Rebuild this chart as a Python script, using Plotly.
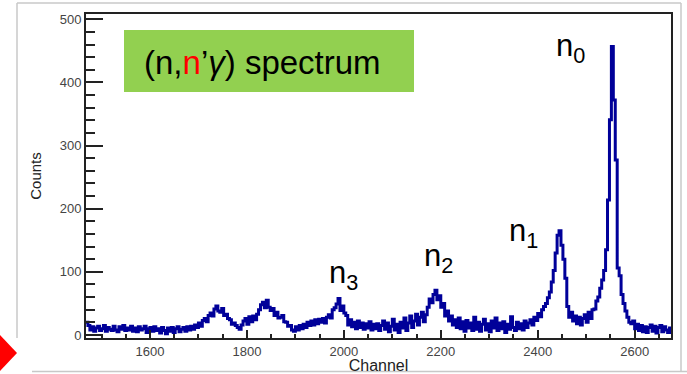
import plotly.graph_objects as go

# ---- data: histogram of counts per channel bin ----
bin_start = 1468
bin_width = 4
counts = [
    # 1468-1568
    20, 15, 8, 13, 6, 11, 14, 7, 10, 15, 6, 12, 9, 7, 14, 8, 5, 13, 9, 15, 7, 11, 8, 14, 6,
    # 1568-1668
    11, 5, 13, 8, 10, 14, 4, 10, 12, 6, 13, 7, 10, 3, 12, 7, 2, 11, 6, 12, 4, 10, 13, 5, 9,
    # 1668-1768
    12, 6, 13, 8, 14, 9, 16, 12, 19, 14, 23, 26, 21, 31, 35, 30, 41, 46, 38, 36, 42, 31, 33, 26, 24,
    # 1768-1868
    17, 19, 15, 12, 9, 16, 22, 26, 17, 29, 21, 30, 24, 33, 40, 48, 52, 43, 55, 44, 39, 42, 31, 36, 27,
    # 1868-1968
    28, 31, 21, 20, 14, 15, 8, 6, 13, 8, 15, 10, 17, 12, 20, 15, 22, 16, 24, 18, 25, 20, 26, 19, 28,
    # 1968-2068
    32, 27, 40, 43, 49, 58, 39, 46, 35, 31, 16, 24, 13, 20, 10, 22, 12, 19, 9, 18, 11, 21, 8, 17, 10,
    # 2068-2168
    18, 7, 15, 22, 9, 19, 5, 14, 25, 8, 17, 4, 20, 11, 27, 7, 19, 30, 12, 22, 33, 16, 28, 36, 21,
    # 2168-2268
    32, 44, 57, 51, 64, 71, 56, 62, 44, 50, 30, 38, 22, 30, 16, 24, 12, 27, 10, 21, 6, 23, 11, 19, 7,
    # 2268-2368
    28, 9, 20, 6, 17, 25, 8, 18, 5, 22, 11, 27, 7, 19, 10, 21, 4, 17, 9, 29, 12, 7, 20, 10, 18,
    # 2368-2468
    8, 22, 12, 19, 24, 16, 28, 23, 34, 29, 40, 45, 50, 59, 68, 84, 102, 130, 158, 165, 142, 120, 90, 45, 28,
    # 2468-2568
    36, 22, 30, 18, 28, 16, 26, 32, 20, 36, 26, 40, 41, 54, 60, 74, 87, 102, 135, 214, 341, 457, 372, 277, 106,
    # 2568-2676
    94, 64, 50, 38, 28, 20, 18, 22, 10, 17, 7, 15, 5, 13, 4, 12, 16, 6, 14, 3, 12, 15, 5, 13, 8, 4, 11,
]
x_ticks = [1600, 1800, 2000, 2200, 2400, 2600]
y_ticks = [0, 100, 200, 300, 400, 500]
peak_labels = ["n<sub>0</sub>", "n<sub>1</sub>", "n<sub>2</sub>", "n<sub>3</sub>"]

edges = [bin_start + i * bin_width for i in range(len(counts) + 1)]
ys = counts + [counts[-1]]

# ---- geometry (pixels) ----
W, H = 687, 374
L, R, T, B = 86, 671, 14, 338
def px(x):
    return (x - L) / (R - L)
def py(y):
    return (B - y) / (B - T)

fig = go.Figure()
fig.add_trace(go.Scatter(
    x=edges, y=ys, mode="lines",
    line=dict(shape="hv", width=3, color="#000099"),
    hoverinfo="skip", showlegend=False,
))

FONT = "Liberation Sans, Arial, sans-serif"
axis_font = dict(family=FONT, size=13, color="#444")
fig.update_layout(
    width=W, height=H,
    margin=dict(l=L, r=W - R, t=T, b=H - B, autoexpand=False),
    paper_bgcolor="white", plot_bgcolor="white",
    showlegend=False,
    xaxis=dict(
        range=[1468, 2675], tickvals=x_ticks, ticktext=[str(v) for v in x_ticks],
        ticks="inside", ticklen=8, tickwidth=2, tickcolor="#222",
        minor=dict(dtick=50, tick0=1600, ticks="inside", ticklen=4, tickwidth=1.5, tickcolor="#222"),
        showline=True, linewidth=2, linecolor="#222", mirror=True,
        showgrid=False, zeroline=False, tickfont=axis_font, automargin=False,
        title=dict(text="Channel", font=dict(family=FONT, size=16, color="#222"), standoff=2),
    ),
    yaxis=dict(
        range=[-4.75, 508.4], tickvals=y_ticks, ticktext=[str(v) for v in y_ticks],
        ticks="inside", ticklen=17, tickwidth=2, tickcolor="#222",
        minor=dict(dtick=20, tick0=0, ticks="inside", ticklen=9, tickwidth=1.5, tickcolor="#222"),
        showline=True, linewidth=2, linecolor="#222", mirror=True,
        showgrid=False, zeroline=False, tickfont=axis_font, automargin=False,
        title=dict(text="Counts", font=dict(family=FONT, size=15, color="#222"), standoff=14),
    ),
)

shapes = []
grey = "#c8c8c8"
shapes.append(dict(type="line", xref="paper", yref="paper", x0=px(17), x1=px(681), y0=py(3), y1=py(3), line=dict(color=grey, width=1.5)))
shapes.append(dict(type="line", xref="paper", yref="paper", x0=px(17), x1=px(17), y0=py(3), y1=py(338), line=dict(color=grey, width=1.5)))
shapes.append(dict(type="line", xref="paper", yref="paper", x0=px(681), x1=px(681), y0=py(3), y1=py(372), line=dict(color=grey, width=1.5)))
shapes.append(dict(type="line", xref="paper", yref="paper", x0=px(32), x1=px(687), y0=py(371.5), y1=py(371.5), line=dict(color=grey, width=1.5)))
shapes.append(dict(type="path", xref="paper", yref="paper",
                   path=f"M {px(-18)} {py(353)} L {px(0)} {py(335)} L {px(17)} {py(353)} L {px(0)} {py(371)} Z",
                   fillcolor="#ff0000", line=dict(width=0)))
shapes.append(dict(type="rect", xref="paper", yref="paper", x0=px(124), x1=px(414), y0=py(30), y1=py(92),
                   fillcolor="#92d050", line=dict(width=0), layer="above"))
fig.update_layout(shapes=shapes)

ann_font = dict(family=FONT, size=31, color="black")
annotations = [
    dict(text="(n,<span style='color:#ff0000'>n</span>’<i>γ</i>) spectrum", xref="paper", yref="paper",
         x=px(142), y=py(62), xanchor="left", yanchor="middle", showarrow=False,
         font=dict(family=FONT, size=33, color="black")),
]
label_pos = [(570, 48), (523, 233), (438, 258), (343, 275)]
for txt, (lx, ly) in zip(peak_labels, label_pos):
    annotations.append(dict(text=txt, xref="paper", yref="paper", x=px(lx), y=py(ly),
                            xanchor="center", yanchor="middle", showarrow=False, font=ann_font))
fig.update_layout(annotations=annotations)

fig.write_html("out.html")
